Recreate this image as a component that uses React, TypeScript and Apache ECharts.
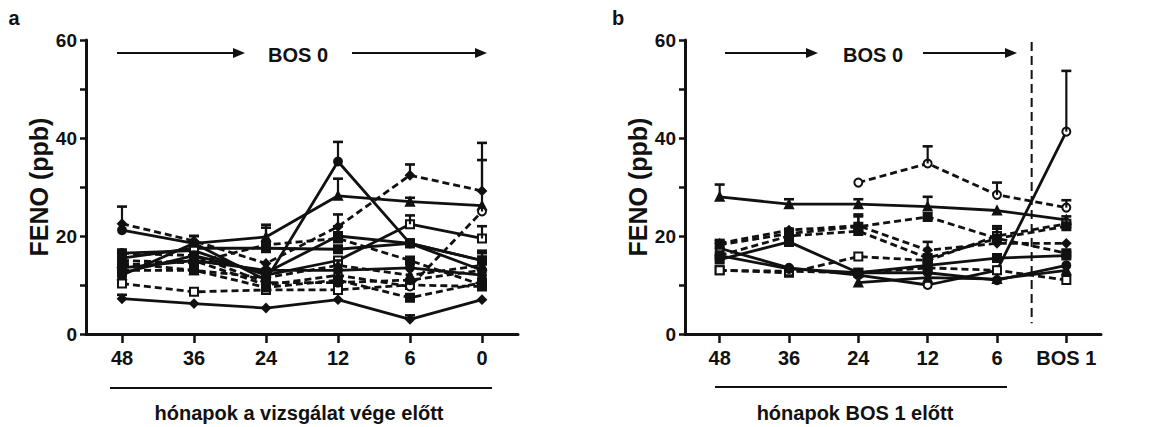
import React, { useEffect, useRef } from "react";
import * as echarts from "echarts";

// ---------- Data ----------
const categoriesA = ["48", "36", "24", "12", "6", "0"];
const categoriesB = ["48", "36", "24", "12", "6", "BOS 1"];
const yMin = 0;
const yMax = 60;
const yTickStep = 10;
const yLabelStep = 20;

// Panel a: FENO (ppb) per patient, months before end of study
const a1 = [21.2, 18.5, 11.0, 35.2, 18.5, 13.0];
const a1Err = [null, 1.5, null, 4.0, null, null];
const a2 = [12.0, 18.5, 19.8, 28.2, 27.0, 26.2];
const a2Err = [null, 1.5, 2.5, 3.5, 0.8, null];
const a3 = [15.5, 17.5, 17.5, 17.3, 18.5, 15.0];
const a3Err = [1.5, null, null, null, null, 1.5];
const a4 = [7.2, 6.2, 5.3, 7.0, 3.0, 7.0];
const a4Err = [0.8, null, null, null, 0.8, null];
const a5 = [10.3, 8.6, 9.0, 9.0, 10.0, 9.7];
const a5Err = [null, null, null, null, null, null];
const a6 = [22.5, 19.0, 14.4, 21.9, 32.4, 29.2];
const a6Err = [3.5, null, null, 2.5, 2.2, 6.3];
const a7 = [15.0, 14.5, 18.2, 19.5, 15.0, 10.0];
const a7Err = [null, null, 3.5, null, null, null];
const a8 = [14.0, 15.0, 10.0, 12.0, 9.7, 25.0];
const a8Err = [null, null, null, null, null, 14.0];
const a9 = [13.0, 13.0, 9.5, 11.0, 7.4, 10.5];
const a9Err = [null, null, null, null, null, null];
const a10 = [16.5, 17.0, 12.0, 15.0, 22.4, 19.5];
const a10Err = [null, null, null, null, 1.8, 2.5];
const a11 = [13.5, 15.0, 13.0, 13.0, 13.5, 12.0];
const a11Err = [null, null, null, 2.0, null, null];
const a12 = [14.5, 13.0, 11.5, 14.0, 12.0, 14.0];
const a12Err = [null, null, null, null, null, null];
const a13 = [12.5, 16.0, 12.5, 20.0, 18.5, 15.0];
const a13Err = [null, null, null, 2.0, null, 2.0];
const a14 = [16.5, 16.0, 10.5, 10.5, 11.0, 13.0];
const a14Err = [null, null, null, null, null, null];

// Panel b: FENO (ppb) per patient, months before BOS 1
const b1 = [28.0, 26.5, 26.5, 26.0, 25.2, 23.3];
const b1Err = [2.5, 1.0, 1.0, 2.0, null, null];
const b2 = [null, null, 30.9, 34.8, 28.4, 25.8];
const b2Err = [null, null, null, 3.5, 2.5, 1.5];
const b3 = [17.5, 13.5, 12.0, 10.0, 13.0, 41.3];
const b3Err = [null, null, null, null, null, 12.4];
const b4 = [18.2, 20.5, 21.9, 23.9, 19.5, 16.5];
const b4Err = [1.0, 1.0, 2.5, null, 2.5, null];
const b5 = [18.5, 21.2, 22.1, 17.1, 18.5, 18.5];
const b5Err = [null, null, null, 1.7, null, null];
const b6 = [13.0, 12.5, 15.8, 15.0, 20.0, 22.5];
const b6Err = [null, null, null, null, 1.5, 1.5];
const b7 = [13.0, 12.8, 12.5, 13.5, 13.0, 11.0];
const b7Err = [null, null, null, null, null, null];
const b8 = [15.2, 18.8, 12.5, 14.0, 15.5, 16.0];
const b8Err = [null, 1.0, null, null, null, null];
const b9 = [16.0, 13.3, 12.5, 12.5, 11.0, 14.0];
const b9Err = [null, null, null, null, null, null];
const b10 = [null, null, 10.5, 11.5, 11.2, 13.0];
const b10Err = [null, null, null, null, null, null];
const b11 = [16.0, 20.0, 21.0, 15.5, 19.5, 22.0];
const b11Err = [null, null, 3.0, null, 2.0, null];

// ---------- Styling helpers ----------
const INK = "#111";
const FONT = "'Liberation Sans', Arial, sans-serif";

type S = { data: (number | null)[]; err: (number | null)[]; dashed: boolean; symbol: string };

const seriesA: S[] = [
  { data: a1, err: a1Err, dashed: false, symbol: "circle" },
  { data: a2, err: a2Err, dashed: false, symbol: "triangle" },
  { data: a3, err: a3Err, dashed: false, symbol: "rect" },
  { data: a4, err: a4Err, dashed: false, symbol: "diamond" },
  { data: a5, err: a5Err, dashed: true, symbol: "emptyRect" },
  { data: a6, err: a6Err, dashed: true, symbol: "diamond" },
  { data: a7, err: a7Err, dashed: true, symbol: "rect" },
  { data: a8, err: a8Err, dashed: true, symbol: "emptyCircle" },
  { data: a9, err: a9Err, dashed: true, symbol: "rect" },
  { data: a10, err: a10Err, dashed: false, symbol: "emptyRect" },
  { data: a11, err: a11Err, dashed: false, symbol: "circle" },
  { data: a12, err: a12Err, dashed: true, symbol: "triangle" },
  { data: a13, err: a13Err, dashed: false, symbol: "rect" },
  { data: a14, err: a14Err, dashed: true, symbol: "circle" },
];

const seriesB: S[] = [
  { data: b1, err: b1Err, dashed: false, symbol: "triangle" },
  { data: b2, err: b2Err, dashed: true, symbol: "emptyCircle" },
  { data: b3, err: b3Err, dashed: false, symbol: "emptyCircle" },
  { data: b4, err: b4Err, dashed: true, symbol: "rect" },
  { data: b5, err: b5Err, dashed: true, symbol: "diamond" },
  { data: b6, err: b6Err, dashed: true, symbol: "emptyRect" },
  { data: b7, err: b7Err, dashed: true, symbol: "emptyRect" },
  { data: b8, err: b8Err, dashed: false, symbol: "rect" },
  { data: b9, err: b9Err, dashed: false, symbol: "circle" },
  { data: b10, err: b10Err, dashed: false, symbol: "triangle" },
  { data: b11, err: b11Err, dashed: true, symbol: "rect" },
];

function lineSeries(list: S[], axisIndex: number) {
  return list.map((s) => ({
    type: "line",
    xAxisIndex: axisIndex,
    yAxisIndex: axisIndex,
    data: s.data,
    connectNulls: false,
    symbol: s.symbol,
    symbolSize: 8,
    showSymbol: true,
    lineStyle: { color: INK, width: 2.8, type: s.dashed ? [7, 4] : "solid" },
    itemStyle: { color: INK, borderColor: INK, borderWidth: 2 },
    z: 3,
  }));
}

function errorData(list: S[]) {
  const out: number[][] = [];
  list.forEach((s) => {
    s.data.forEach((v, i) => {
      const e = s.err[i];
      if (v != null && e != null) out.push([i, v, v + e]);
    });
  });
  return out;
}

function errorSeries(list: S[], axisIndex: number) {
  return {
    type: "custom",
    xAxisIndex: axisIndex,
    yAxisIndex: axisIndex,
    data: errorData(list),
    encode: { x: 0, y: [1, 2] },
    z: 4,
    renderItem: (params: any, api: any) => {
      const x = api.value(0);
      const p1 = api.coord([x, api.value(1)]);
      const p2 = api.coord([x, api.value(2)]);
      return {
        type: "group",
        children: [
          { type: "line", shape: { x1: p1[0], y1: p1[1], x2: p2[0], y2: p2[1] }, style: { stroke: INK, lineWidth: 2.2 } },
          { type: "line", shape: { x1: p2[0] - 5, y1: p2[1], x2: p2[0] + 5, y2: p2[1] }, style: { stroke: INK, lineWidth: 2.6 } },
        ],
      };
    },
  };
}

const bosDivider = {
  type: "custom",
  xAxisIndex: 1,
  yAxisIndex: 1,
  data: [[4, 0]],
  z: 2,
  renderItem: (params: any, api: any) => {
    const a = api.coord([4, 59.6]);
    const b = api.coord([5, 2.2]);
    const x = (a[0] + b[0]) / 2;
    return {
      type: "line",
      shape: { x1: x, y1: a[1], x2: x, y2: b[1] },
      style: { stroke: INK, lineWidth: 2, lineDash: [9, 5] },
    };
  },
};

function yAxis(gridIndex: number) {
  return {
    type: "value",
    gridIndex,
    min: yMin,
    max: yMax,
    interval: yTickStep,
    name: "FENO (ppb)",
    nameLocation: "middle",
    nameGap: 34,
    nameTextStyle: { fontFamily: FONT, fontWeight: "bold", fontSize: 25, color: INK },
    axisLine: { show: true, lineStyle: { color: INK, width: 3 } },
    axisTick: { show: true, length: 6, lineStyle: { color: INK, width: 2.5 } },
    splitLine: { show: false },
    axisLabel: {
      fontFamily: FONT,
      fontWeight: "bold",
      fontSize: 19,
      color: INK,
      margin: 9,
      formatter: (v: number) => (v % yLabelStep === 0 ? String(v) : ""),
    },
  };
}

function xAxis(gridIndex: number, cats: string[]) {
  return {
    type: "category",
    gridIndex,
    data: cats,
    boundaryGap: true,
    axisLine: { show: true, lineStyle: { color: INK, width: 3 } },
    axisTick: { show: true, alignWithLabel: true, interval: 0, length: 9, lineStyle: { color: INK, width: 2.5 } },
    splitLine: { show: false },
    axisLabel: { interval: 0, fontFamily: FONT, fontWeight: "bold", fontSize: 20, color: INK, margin: 14 },
  };
}

function arrow(x1: number, x2: number, y: number) {
  return [
    { type: "line", shape: { x1, y1: y, x2: x2 - 8, y2: y }, style: { stroke: INK, lineWidth: 2 } },
    { type: "polygon", shape: { points: [[x2 - 12, y - 5], [x2, y], [x2 - 12, y + 5]] }, style: { fill: INK } },
  ];
}

function label(text: string, x: number, y: number, size: number) {
  return {
    type: "text",
    x,
    y,
    style: {
      text,
      fill: INK,
      font: `bold ${size}px ${FONT}`,
      align: "center",
      verticalAlign: "middle",
    },
  };
}

export default function App() {
  const ref = useRef<HTMLDivElement>(null);
  useEffect(() => {
    if (!ref.current) return;
    const chart = echarts.init(ref.current, null, { renderer: "svg" });
    chart.setOption({
      animation: false,
      backgroundColor: "#fff",
      grid: [
        { left: 86, top: 40, width: 432, height: 294 },
        { left: 685, top: 40, width: 416, height: 294 },
      ],
      xAxis: [xAxis(0, categoriesA), xAxis(1, categoriesB)],
      yAxis: [yAxis(0), yAxis(1)],
      series: [
        ...lineSeries(seriesA, 0),
        errorSeries(seriesA, 0),
        ...lineSeries(seriesB, 1),
        errorSeries(seriesB, 1),
        bosDivider,
      ],
      graphic: [
        label("a", 14, 18, 20),
        label("b", 618, 18, 20),
        label("BOS 0", 298, 55, 20),
        label("BOS 0", 873, 55, 20),
        ...arrow(117, 245, 53),
        ...arrow(352, 487, 53),
        ...arrow(725, 818, 53),
        ...arrow(923, 1017, 53),
        { type: "line", shape: { x1: 110, y1: 388, x2: 492, y2: 388 }, style: { stroke: INK, lineWidth: 2 } },
        { type: "line", shape: { x1: 715, y1: 387, x2: 1007, y2: 387 }, style: { stroke: INK, lineWidth: 2 } },
        label("hónapok a vizsgálat vége előtt", 299, 413, 20),
        label("hónapok BOS 1 előtt", 855, 413, 20),
      ],
    });
    return () => chart.dispose();
  }, []);
  return (
    <div
      ref={ref}
      style={{ position: "absolute", left: 0, top: 0, width: 1161, height: 427, background: "#fff" }}
    />
  );
}
